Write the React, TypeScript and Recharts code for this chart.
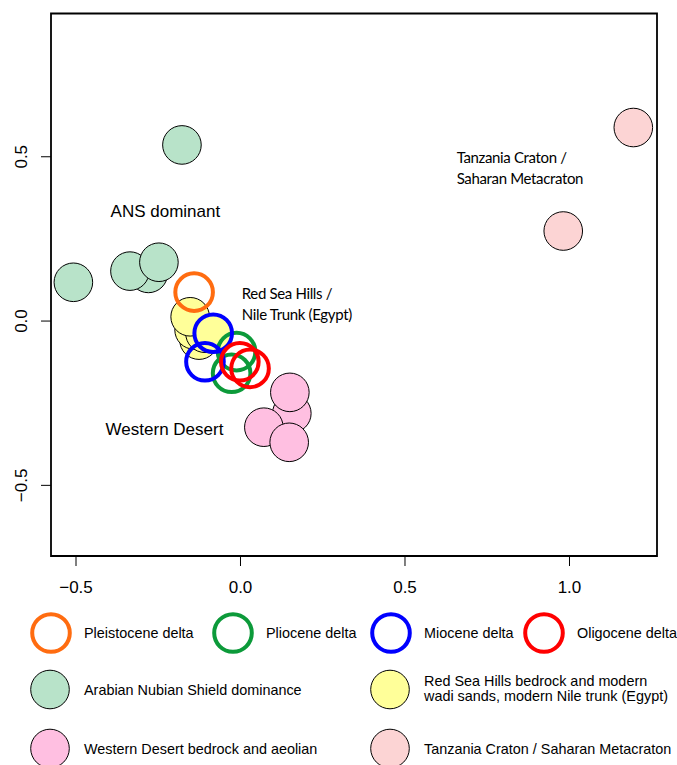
import React from 'react';
import { ScatterChart, Scatter, XAxis, YAxis, ReferenceArea } from 'recharts';

// axis ranges and ticks (R-style plot box)
const xRange = [-0.576, 1.266];
const yRange = [-0.715, 0.936];
const xTicks = [-0.5, 0, 0.5, 1.0];
const yTicks = [-0.5, 0, 0.5];

// sample groups
const ansPoints = [
  { x: -0.28, y: 0.145 },
  { x: -0.336, y: 0.152 },
  { x: -0.248, y: 0.179 },
  { x: -0.508, y: 0.118 },
  { x: -0.178, y: 0.536 },
];
const redSeaPoints = [
  { x: -0.126, y: -0.058 },
  { x: -0.141, y: -0.027 },
  { x: -0.108, y: -0.037 },
  { x: -0.153, y: 0.013 },
  { x: -0.083, y: -0.037 },
];
const westernPoints = [
  { x: 0.156, y: -0.281 },
  { x: 0.15, y: -0.217 },
  { x: 0.071, y: -0.323 },
  { x: 0.148, y: -0.369 },
];
const tanzaniaPoints = [
  { x: 1.194, y: 0.589 },
  { x: 0.981, y: 0.274 },
];
const pleistocenePoints = [{ x: -0.141, y: 0.088 }];
const pliocenePoints = [
  { x: -0.012, y: -0.093 },
  { x: -0.027, y: -0.159 },
];
const miocenePoints = [
  { x: -0.083, y: -0.037 },
  { x: -0.108, y: -0.124 },
];
const oligocenePoints = [
  { x: -0.002, y: -0.124 },
  { x: 0.029, y: -0.144 },
];

// text annotations inside the plot
const arialNotes = [
  { x: -0.395, y: 0.317, lines: ['ANS dominant'] },
  { x: -0.41, y: -0.347, lines: ['Western Desert'] },
];
const sansNotes = [
  { x: 0.004, y: 0.067, lines: ['Red Sea Hills /', 'Nile Trunk (Egypt)'] },
  { x: 0.657, y: 0.481, lines: ['Tanzania Craton /', 'Saharan Metacraton'] },
];

// legend
const ringLegend = ['Pleistocene delta', 'Pliocene delta', 'Miocene delta', 'Oligocene delta'];
const fillLegendLeft = ['Arabian Nubian Shield dominance', 'Western Desert bedrock and aeolian'];
const fillLegendRight = [
  ['Red Sea Hills bedrock and modern', 'wadi sands, modern Nile trunk (Egypt)'],
  ['Tanzania Craton / Saharan Metacraton'],
];

const C = {
  ans: '#B8E3C9',
  redSea: '#FFFF99',
  western: '#FFBFE1',
  tanzania: '#FCD4D4',
  pleistocene: '#FF6C10',
  pliocene: '#0C9A3A',
  miocene: '#0000FF',
  oligocene: '#FF0000',
};
const ringColors = [C.pleistocene, C.pliocene, C.miocene, C.oligocene];
const fillLeftColors = [C.ans, C.western];
const fillRightColors = [C.redSea, C.tanzania];

const ARIAL = '"Liberation Sans", Arial, sans-serif';
const CALIBRI = 'Lato, "Open Sans", sans-serif';
const R_FILL = 19.3;
const R_RING = 18.8;

const minus = (v: number) => (v < 0 ? '\u2212' : '') + Math.abs(v).toFixed(1);

const filled = (color: string) => (p: any) => (
  <circle cx={p.cx} cy={p.cy} r={R_FILL} fill={color} stroke="#000" strokeWidth={1} />
);
const ring = (color: string) => (p: any) => (
  <circle cx={p.cx} cy={p.cy} r={R_RING} fill="none" stroke={color} strokeWidth={4} />
);
const note = (font: string, size: number, lh: number, spacing = 0) => (p: any) => (
  <text x={p.cx} y={p.cy} fontFamily={font} fontSize={size} letterSpacing={spacing} fill="#000">
    {p.payload.lines.map((l: string, i: number) => (
      <tspan key={i} x={p.cx} dy={i === 0 ? 0 : lh}>
        {l}
      </tspan>
    ))}
  </text>
);

const XTick = (p: any) => (
  <text x={p.x} y={p.y + 25} textAnchor="middle" fontFamily={ARIAL} fontSize={17} fill="#000">
    {minus(p.payload.value)}
  </text>
);
const YTick = (p: any) => (
  <text
    transform={`translate(${p.x - 12}, ${p.y}) rotate(-90)`}
    textAnchor="middle"
    fontFamily={ARIAL}
    fontSize={17}
    fill="#000"
  >
    {minus(p.payload.value)}
  </text>
);

function LegendOverlay() {
  const ringX = [51, 233, 391, 544];
  return (
    <svg width={677} height={765} style={{ position: 'absolute', left: 0, top: 0 }}>
      <g fontFamily={ARIAL} fontSize={14.4} fill="#000">
        {ringLegend.map((label, i) => (
          <g key={label}>
            <circle cx={ringX[i]} cy={633} r={R_RING} fill="none" stroke={ringColors[i]} strokeWidth={4} />
            <text x={ringX[i] + 33} y={637.5}>{label}</text>
          </g>
        ))}
        {fillLegendLeft.map((label, i) => (
          <g key={label}>
            <circle cx={50} cy={689.5 + i * 59} r={R_FILL} fill={fillLeftColors[i]} stroke="#000" strokeWidth={1} />
            <text x={84} y={695 + i * 58.5}>{label}</text>
          </g>
        ))}
        {fillLegendRight.map((lines, i) => (
          <g key={lines[0]}>
            <circle cx={390} cy={689.5 + i * 59} r={R_FILL} fill={fillRightColors[i]} stroke="#000" strokeWidth={1} />
            <text x={424} y={(lines.length > 1 ? 686 : 695) + i * 58.5}>
              {lines.map((l, j) => (
                <tspan key={j} x={424} dy={j === 0 ? 0 : 15}>
                  {l}
                </tspan>
              ))}
            </text>
          </g>
        ))}
      </g>
    </svg>
  );
}

export default function App() {
  return (
    <div style={{ position: 'absolute', left: 0, top: 0, width: 677, height: 765, overflow: 'hidden', background: '#fff' }}>
      <ScatterChart width={677} height={765} margin={{ top: 13.5, right: 20, left: 10, bottom: 159 }}>
        <XAxis
          type="number"
          dataKey="x"
          domain={xRange}
          ticks={xTicks}
          allowDataOverflow
          axisLine={false}
          tickLine={{ stroke: '#000', strokeWidth: 1 }}
          tickSize={10}
          height={50}
          tick={XTick}
        />
        <YAxis
          type="number"
          dataKey="y"
          domain={yRange}
          ticks={yTicks}
          allowDataOverflow
          axisLine={false}
          tickLine={{ stroke: '#000', strokeWidth: 1 }}
          tickSize={10}
          width={41}
          tick={YTick}
        />
        <ReferenceArea
          x1={xRange[0]}
          x2={xRange[1]}
          y1={yRange[0]}
          y2={yRange[1]}
          fill="none"
          fillOpacity={0}
          stroke="#000"
          strokeWidth={1.8}
          ifOverflow="visible"
        />
        <Scatter data={ansPoints} shape={filled(C.ans)} isAnimationActive={false} />
        <Scatter data={tanzaniaPoints} shape={filled(C.tanzania)} isAnimationActive={false} />
        <Scatter data={westernPoints} shape={filled(C.western)} isAnimationActive={false} />
        <Scatter data={redSeaPoints} shape={filled(C.redSea)} isAnimationActive={false} />
        <Scatter data={pleistocenePoints} shape={ring(C.pleistocene)} isAnimationActive={false} />
        <Scatter data={pliocenePoints} shape={ring(C.pliocene)} isAnimationActive={false} />
        <Scatter data={miocenePoints} shape={ring(C.miocene)} isAnimationActive={false} />
        <Scatter data={oligocenePoints} shape={ring(C.oligocene)} isAnimationActive={false} />
        <Scatter data={arialNotes} shape={note(ARIAL, 17, 21)} isAnimationActive={false} />
        <Scatter data={sansNotes} shape={note(CALIBRI, 15, 21, -0.35)} isAnimationActive={false} />
      </ScatterChart>
      <LegendOverlay />
    </div>
  );
}
